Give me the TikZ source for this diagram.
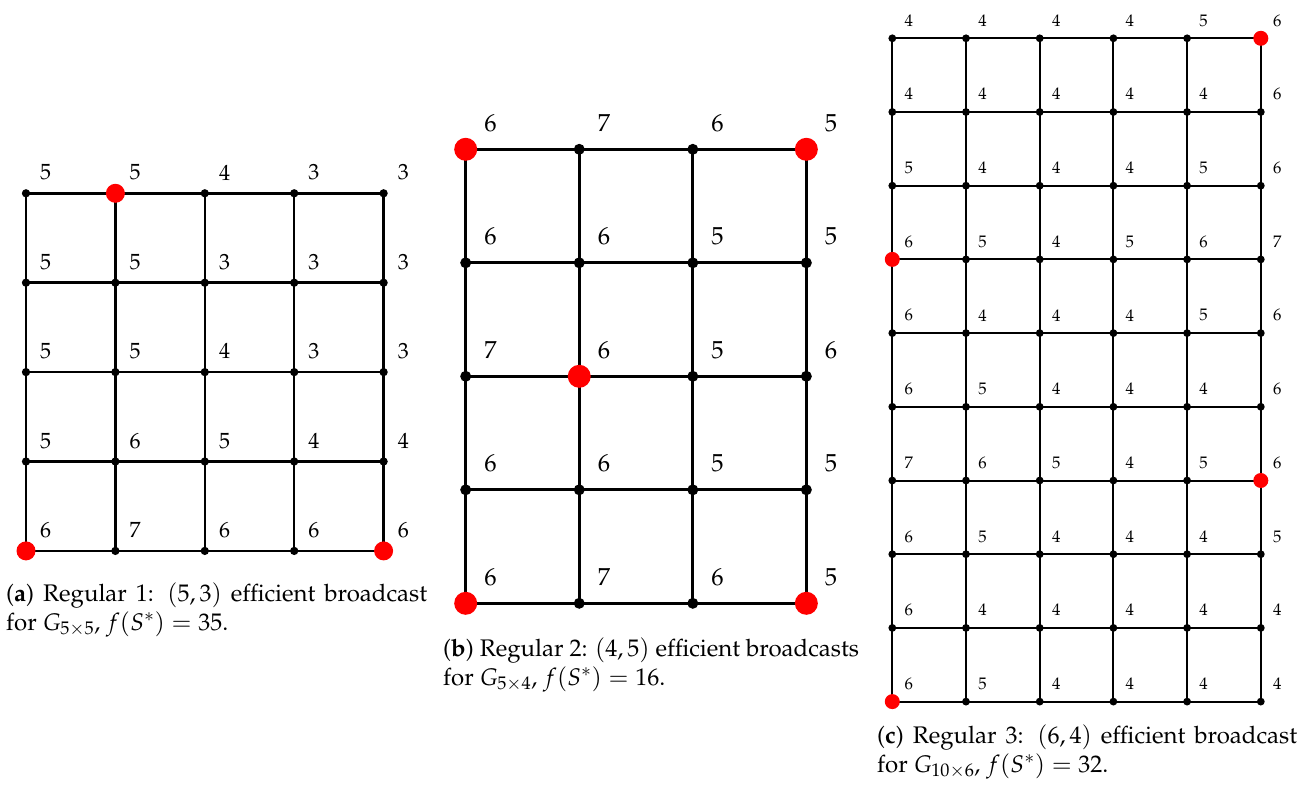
\documentclass[tikz,border=0pt]{standalone}
\usepackage[T1]{fontenc}
\usepackage{mathpazo}
\usetikzlibrary{backgrounds}
\tikzset{
  gdot/.style={circle,fill=black,draw=none,inner sep=0pt},
  dotA/.style={gdot,minimum size=8.3pt},
  redA/.style={gdot,fill=red,minimum size=19pt},
  dotB/.style={gdot,minimum size=11pt},
  redB/.style={gdot,fill=red,minimum size=23pt},
  dotC/.style={gdot,minimum size=7.8pt},
  redC/.style={gdot,fill=red,minimum size=15pt},
  labA/.style={inner sep=0pt,font=\fontsize{22}{26}\selectfont},
  labB/.style={inner sep=0pt,font=\fontsize{24.6}{29}\selectfont},
  labC/.style={inner sep=0pt,font=\fontsize{16.7}{20}\selectfont},
  edgeA/.style={line width=2.5pt},
  edgeB/.style={line width=3pt},
  edgeC/.style={line width=2pt},
  capt/.style={anchor=base west,inner sep=0pt,font=\fontsize{24}{29}\selectfont},
}
\newcommand\twolines[2]{\vtop{\hbox{#1}\hbox{#2}}}
\expandafter\def\csname isred-a-1-2\endcsname{}
\expandafter\def\csname isred-a-5-1\endcsname{}
\expandafter\def\csname isred-a-5-5\endcsname{}
\expandafter\def\csname isred-b-1-1\endcsname{}
\expandafter\def\csname isred-b-1-4\endcsname{}
\expandafter\def\csname isred-b-3-2\endcsname{}
\expandafter\def\csname isred-b-5-1\endcsname{}
\expandafter\def\csname isred-b-5-4\endcsname{}
\expandafter\def\csname isred-c-1-6\endcsname{}
\expandafter\def\csname isred-c-4-1\endcsname{}
\expandafter\def\csname isred-c-7-6\endcsname{}
\expandafter\def\csname isred-c-10-1\endcsname{}
\begin{document}
\begin{tikzpicture}[x=1pt,y=-1pt]
\useasboundingbox (0,0) rectangle (1299,787);

% ---------- grid (a) ----------
\foreach \row [count=\r] in {{5,5,4,3,3},{5,5,3,3,3},{5,5,4,3,3},{5,6,5,4,4},{6,7,6,6,6}}{
  \foreach \v [count=\c] in \row {
    \ifcsname isred-a-\r-\c\endcsname\def\st{redA}\else\def\st{dotA}\fi
    \node[\st] (a-\r-\c) at ({26+(\c-1)*89.4},{193.3+(\r-1)*89.4}) {};
    \node[labA] (la-\r-\c) at ({26+(\c-1)*89.4+19.7},{193.3+(\r-1)*89.4-20.8}) {\v};
  }
}
\begin{scope}[on background layer]
\foreach \r in {1,...,5}{
  \foreach \c [evaluate=\c as \n using int(\c+1)] in {1,...,4}{
    \draw[edgeA] (a-\r-\c.center) -- (a-\r-\n.center);
    \draw[edgeA] (a-\c-\r.center) -- (a-\n-\r.center);
  }
}
\end{scope}

% ---------- grid (b) ----------
\foreach \row [count=\r] in {{6,7,6,5},{6,6,5,5},{7,6,5,6},{6,6,5,5},{6,7,6,5}}{
  \foreach \v [count=\c] in \row {
    \ifcsname isred-b-\r-\c\endcsname\def\st{redB}\else\def\st{dotB}\fi
    \node[\st] (b-\r-\c) at ({465.7+(\c-1)*113.55},{149.3+(\r-1)*113.5}) {};
    \node[labB] (lb-\r-\c) at ({465.7+(\c-1)*113.55+24.7},{149.3+(\r-1)*113.5-26.3}) {\v};
  }
}
\begin{scope}[on background layer]
\foreach \r in {1,...,5}{
  \foreach \c [evaluate=\c as \n using int(\c+1)] in {1,...,3}{
    \draw[edgeB] (b-\r-\c.center) -- (b-\r-\n.center);
  }
}
\foreach \c in {1,...,4}{
  \foreach \r [evaluate=\r as \n using int(\r+1)] in {1,...,4}{
    \draw[edgeB] (b-\r-\c.center) -- (b-\n-\c.center);
  }
}
\end{scope}

% ---------- grid (c) ----------
\foreach \row [count=\r] in {{4,4,4,4,5,6},{4,4,4,4,4,6},{5,4,4,4,5,6},{6,5,4,5,6,7},{6,4,4,4,5,6},
                             {6,5,4,4,4,6},{7,6,5,4,5,6},{6,5,4,4,4,5},{6,4,4,4,4,4},{6,5,4,4,4,4}}{
  \foreach \v [count=\c] in \row {
    \ifcsname isred-c-\r-\c\endcsname\def\st{redC}\else\def\st{dotC}\fi
    \node[\st] (c-\r-\c) at ({892.3+(\c-1)*73.7},{38.3+(\r-1)*73.7}) {};
    \node[labC] (lc-\r-\c) at ({892.3+(\c-1)*73.7+16.5},{38.3+(\r-1)*73.7-17.8}) {\v};
  }
}
\begin{scope}[on background layer]
\foreach \r in {1,...,10}{
  \foreach \c [evaluate=\c as \n using int(\c+1)] in {1,...,5}{
    \draw[edgeC] (c-\r-\c.center) -- (c-\r-\n.center);
  }
}
\foreach \c in {1,...,6}{
  \foreach \r [evaluate=\r as \n using int(\r+1)] in {1,...,9}{
    \draw[edgeC] (c-\r-\c.center) -- (c-\n-\c.center);
  }
}
\end{scope}

% ---------- captions ----------
\node[capt] (capa) at (6,601) {\twolines{\makebox[421pt][s]{(\textbf{a}) Regular 1: $(5,3)$ efficient broadcast}}{for $G_{5\times 5}$, $f(S^*)=35$.}};
\node[capt] (capb) at (443,656) {\twolines{(\textbf{b}) Regular 2: $(4,5)$ efficient broadcasts}{for $G_{5\times 4}$, $f(S^*)=16$.}};
\node[capt] (capc) at (877,743) {\twolines{\makebox[420pt][s]{(\textbf{c}) Regular 3: $(6,4)$ efficient broadcast}}{for $G_{10\times 6}$, $f(S^*)=32$.}};
\end{tikzpicture}
\end{document}
